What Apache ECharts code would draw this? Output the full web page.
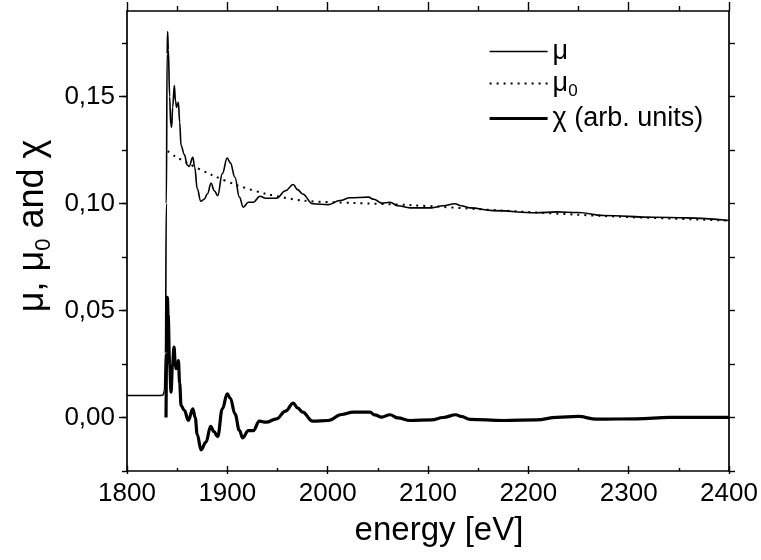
<!DOCTYPE html>
<html>
<head>
<meta charset="utf-8">
<script src="https://cdn.jsdelivr.net/npm/echarts@6/dist/echarts.min.js"></script>
<style>
  html, body { margin: 0; padding: 0; background: #fff; }
  #chart { width: 761px; height: 560px; }
</style>
</head>
<body>
<div id="chart"></div>
<script>
// ---- data ----
const muEnergy = [1800, 1834, 1836, 1837.3, 1838.3, 1839.2, 1840.0, 1840.5, 1841.2, 1842.5, 1843.6, 1844.5, 1845.5, 1847.2, 1848.3, 1849.5, 1851.2, 1852.5, 1853.9, 1857.2, 1860, 1861.9, 1865.6, 1867.5, 1870, 1873.5, 1877, 1880.1, 1883.8, 1887, 1890.4, 1895, 1899.9, 1903, 1907.6, 1912, 1915.9, 1920.9, 1925.9, 1932.5, 1938.2, 1949.1, 1958, 1965.7, 1970, 1975, 1985, 2000.6, 2012.2, 2022.2, 2040.5, 2046, 2053.8, 2062.1, 2070, 2082.1, 2103.6, 2115, 2126.9, 2133, 2141.9, 2165.1, 2208.3, 2228.3, 2249.8, 2274.8, 2324.6, 2357.9, 2400];
const muValue = [0.0103, 0.0103, 0.0106, 0.0125, 0.030, 0.100, 0.170, 0.1804, 0.172, 0.150, 0.137, 0.1357, 0.145, 0.1551, 0.148, 0.145, 0.1473, 0.138, 0.1271, 0.1229, 0.118, 0.1174, 0.1216, 0.117, 0.107, 0.1011, 0.102, 0.1045, 0.1095, 0.106, 0.1037, 0.114, 0.1213, 0.119, 0.1123, 0.103, 0.0983, 0.1006, 0.1006, 0.1034, 0.1025, 0.1025, 0.106, 0.1089, 0.1065, 0.1045, 0.0999, 0.0995, 0.1014, 0.1027, 0.1030, 0.102, 0.1002, 0.1006, 0.0990, 0.0980, 0.0980, 0.0990, 0.0999, 0.0990, 0.0980, 0.0967, 0.0957, 0.0961, 0.0958, 0.0944, 0.0936, 0.0933, 0.0921];

const mu0Energy = [1840.5, 1847.8, 1860, 1884.3, 1910.8, 1939.1, 1975.6, 2025.4, 2082, 2175, 2274.8, 2400];
const mu0Value = [0.1245, 0.1221, 0.1190, 0.1134, 0.1084, 0.1045, 0.1014, 0.1003, 0.0993, 0.0967, 0.0942, 0.0920];

const chiEnergy = [1838.9, 1839.5, 1840.2, 1841, 1842.5, 1843.9, 1845.3, 1846.9, 1848, 1848.9, 1850, 1851.2, 1852.5, 1853.9, 1857.2, 1861.1, 1865.6, 1868, 1870, 1873.8, 1878.7, 1883.4, 1886.5, 1890.4, 1895, 1899.9, 1903, 1907.6, 1912, 1915.3, 1920.9, 1925.9, 1931.9, 1938.6, 1949.1, 1958, 1965.7, 1970, 1975, 1985, 2000.6, 2013.9, 2025.5, 2042.2, 2047, 2053.8, 2062.1, 2070, 2082.1, 2103.6, 2115, 2127.9, 2133, 2141.9, 2175.1, 2208.3, 2228.3, 2249.8, 2268.1, 2308, 2341.2, 2400];
const chiValue = [0.0, 0.030, 0.0562, 0.048, 0.025, 0.0118, 0.024, 0.0329, 0.026, 0.0228, 0.025, 0.0266, 0.016, 0.0056, 0.0033, -0.0014, 0.0041, 0.0, -0.008, -0.0151, -0.0115, -0.0041, -0.0065, -0.0089, 0.004, 0.0111, 0.009, 0.0017, -0.006, -0.0095, -0.0061, -0.0061, -0.0017, -0.0022, -0.0006, 0.003, 0.0067, 0.0045, 0.0025, -0.0017, -0.0014, 0.0014, 0.0025, 0.0025, 0.0012, 0.0002, 0.0013, -0.0002, -0.0014, -0.0011, 0.0, 0.0013, 0.0005, -0.0009, -0.0014, -0.0011, 0.0001, 0.0005, -0.0008, -0.0006, 0.0001, 0.0001];

const seriesNames = ['μ', 'μ0', 'χ (arb. units)'];
const xTitle = 'energy [eV]';
const xMin = 1800, xMax = 2400, xStep = 100;
const yMin = -0.025, yMax = 0.19;

// ---- layout ----
const FONT = "'Liberation Sans', Arial, sans-serif";
const L = 127, R = 32, T = 11, B = 89;
const plotH = 560 - T - B;
const pxPer = plotH / (yMax - yMin);
const yPix = v => T + (yMax - v) * pxPer;

function zip(a, b) { return a.map((x, i) => [x, b[i]]); }
const black = '#000';
const line = { show: true, onZero: false, lineStyle: { color: black, width: 1.7 } };
const tickStyle = { color: black, width: 1.4 };
const widths = [1.6, 2, 3.2];
const dashTypes = ['solid', [2, 5], 'solid'];

const option = {
  animation: false,
  backgroundColor: '#fff',
  grid: [
    { left: L, right: R, top: T, bottom: B, containLabel: false },
    { left: L, right: R, top: yPix(0.15), bottom: 560 - yPix(0), containLabel: false },
    { left: L, right: R, top: yPix(0.175), bottom: B, containLabel: false }
  ],
  legend: {
    orient: 'vertical',
    left: 483, top: 33,
    itemWidth: 58, itemHeight: 14, itemGap: 5,
    itemStyle: { opacity: 0 },
    data: seriesNames.map((n, i) => ({ name: n, lineStyle: { color: black, width: widths[i], type: dashTypes[i] } })),
    textStyle: {
      fontFamily: FONT, fontSize: 27, color: black,
      rich: {
        m: { fontFamily: FONT, fontSize: 27, color: black },
        s: { fontFamily: FONT, fontSize: 17, color: black, verticalAlign: 'bottom', padding: [16, 0, 0, 0] }
      }
    },
    formatter: function (name) {
      if (name === 'μ0') return '{m|μ}{s|0}';
      return '{m|' + name + '}';
    }
  },
  xAxis: [
    { gridIndex: 0, type: 'value', position: 'bottom', min: xMin, max: xMax, interval: xStep,
      axisLine: line, splitLine: { show: false },
      axisTick: { show: true, inside: true, length: 5, lineStyle: tickStyle },
      minorTick: { show: true, splitNumber: 2, length: 3, lineStyle: tickStyle },
      axisLabel: { color: black, fontFamily: FONT, fontSize: 26, margin: 10, formatter: v => String(v) },
      name: xTitle, nameLocation: 'middle', nameGap: 43,
      nameTextStyle: { color: black, fontFamily: FONT, fontSize: 33, padding: [0, 0, 0, 22] } },
    { gridIndex: 0, type: 'value', position: 'top', min: xMin, max: xMax, interval: xStep,
      axisLine: line, splitLine: { show: false },
      axisTick: { show: true, inside: false, length: 9, lineStyle: tickStyle },
      minorTick: { show: true, splitNumber: 2, length: 5, lineStyle: tickStyle },
      axisLabel: { show: false } },
    { gridIndex: 1, type: 'value', min: xMin, max: xMax, show: false },
    { gridIndex: 2, type: 'value', position: 'bottom', min: xMin, max: xMax, interval: xStep,
      axisLine: { show: false, onZero: false }, splitLine: { show: false },
      axisTick: { show: true, inside: false, length: 3, lineStyle: tickStyle },
      axisLabel: { show: false } }
  ],
  yAxis: [
    { gridIndex: 0, type: 'value', position: 'left', min: yMin, max: yMax,
      axisLine: line, splitLine: { show: false },
      axisTick: { show: false }, axisLabel: { show: false },
      name: 'μ, μ{s|0} and χ', nameLocation: 'middle', nameGap: 72, nameRotate: 90,
      nameTextStyle: { color: black, fontFamily: FONT, fontSize: 36, padding: [0, 0, 0, 30],
        rich: { s: { fontFamily: FONT, fontSize: 22, color: black, verticalAlign: 'bottom', padding: [21, 0, 0, 0] } } } },
    { gridIndex: 0, type: 'value', position: 'right', min: yMin, max: yMax,
      axisLine: line, splitLine: { show: false },
      axisTick: { show: false }, axisLabel: { show: false } },
    { gridIndex: 1, type: 'value', position: 'left', min: 0, max: 0.15, interval: 0.05,
      axisLine: { show: false, onZero: false }, splitLine: { show: false },
      axisTick: { show: true, inside: false, length: 8, lineStyle: tickStyle },
      axisLabel: { color: black, fontFamily: FONT, fontSize: 26, margin: 12,
        formatter: v => v.toFixed(2).replace('.', ',') } },
    { gridIndex: 2, type: 'value', position: 'left', min: -0.025, max: 0.175, interval: 0.025,
      axisLine: { show: false, onZero: false }, splitLine: { show: false },
      axisTick: { show: true, inside: false, length: 5, lineStyle: tickStyle },
      axisLabel: { show: false } },
    { gridIndex: 2, type: 'value', position: 'right', min: -0.025, max: 0.175, interval: 0.025,
      axisLine: { show: false, onZero: false }, splitLine: { show: false },
      axisTick: { show: true, inside: false, length: 6, lineStyle: tickStyle },
      axisLabel: { show: false } }
  ],
  series: seriesNames.map((n, i) => ({
    name: n, type: 'line', xAxisIndex: 0, yAxisIndex: 0,
    data: [zip(muEnergy, muValue), zip(mu0Energy, mu0Value), zip(chiEnergy, chiValue)][i],
    symbol: 'none', smooth: i === 1 ? 0.3 : 0.4, smoothMonotone: i === 1 ? undefined : 'x',
    lineStyle: { color: black, width: widths[i], type: dashTypes[i] }, itemStyle: { color: black }
  }))
};

const chart = echarts.init(document.getElementById('chart'), null, { renderer: 'canvas' });
chart.setOption(option);
</script>
</body>
</html>
